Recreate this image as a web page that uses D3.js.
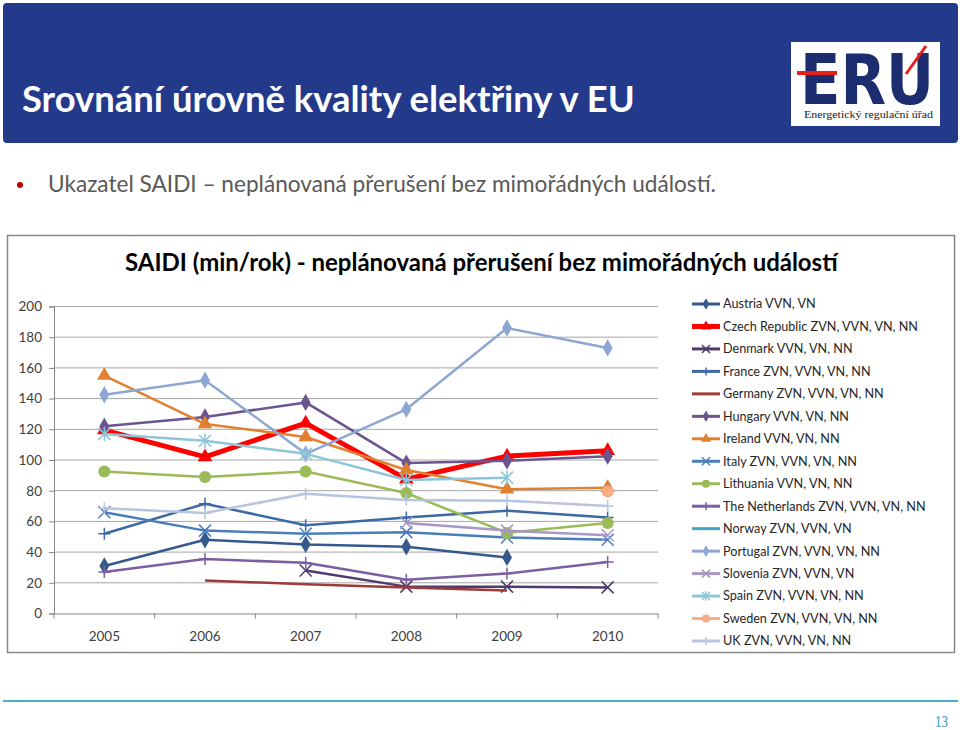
<!DOCTYPE html>
<html><head><meta charset="utf-8">
<script src="https://cdn.jsdelivr.net/npm/d3@7"></script>
<style>body{margin:0;background:#fff}svg{display:block}</style>
</head><body><svg id="c" width="960" height="730"></svg>
<script>
// ---- data ----
const years = ["2005","2006","2007","2008","2009","2010"];
const yTicks = [0,20,40,60,80,100,120,140,160,180,200];
const seriesNames = ["Austria VVN, VN","Czech Republic ZVN, VVN, VN, NN","Denmark VVN, VN, NN","France ZVN, VVN, VN, NN","Germany ZVN, VVN, VN, NN","Hungary VVN, VN, NN","Ireland VVN, VN, NN","Italy  ZVN, VVN, VN, NN","Lithuania VVN, VN, NN","The Netherlands ZVN, VVN, VN, NN","Norway ZVN, VVN, VN","Portugal ZVN, VVN, VN, NN","Slovenia  ZVN, VVN, VN","Spain ZVN, VVN, VN, NN","Sweden ZVN, VVN, VN, NN","UK ZVN, VVN, VN, NN"];
const austria     = [31, 48, 45, 43.5, 36.5, null];
const czech       = [119.5, 102, 124, 87.5, 102.5, 106];
const denmark     = [null, null, 28, 17.5, 17.5, 17];
const france      = [52, 71.5, 57.5, 62.5, 67, 62.5];
const germany     = [null, 21.5, 19, 17, 15, null];
const hungary     = [122, 128, 137.5, 98, 99.5, 102.5];
const ireland     = [155, 123.5, 115, 93.5, 81, 82];
const italy       = [66, 54, 52, 53, 49.5, 48];
const lithuania   = [92.5, 89, 92.5, 78.5, 52.5, 59];
const netherlands = [27, 35.5, 33, 22, 26, 33.5];
const norway      = [null, null, null, null, null, null];
const portugal    = [142.5, 152, 104, 133, 186, 173];
const slovenia    = [null, null, null, 59, 54, 51];
const spain       = [117, 112.5, 104, 87, 88.5, null];
const sweden      = [null, null, null, null, null, 79.5];
const uk          = [68.5, 65.5, 78, 74, 73.5, 70];
const seriesValues = [austria, czech, denmark, france, germany, hungary, ireland, italy, lithuania, netherlands, norway, portugal, slovenia, spain, sweden, uk];

// ---- styles ----
const styles = [
  {c:"#35598c", m:"diamond", w:2.5},
  {c:"#ff0000", m:"triangle", w:5},
  {c:"#4d3b6e", m:"x", w:2.5},
  {c:"#3c6aa3", m:"plus", w:2.5},
  {c:"#9e3a38", m:"none", w:2.5},
  {c:"#6a5591", m:"diamond", w:2.5},
  {c:"#e0812f", m:"triangle", w:2.5},
  {c:"#4a7ebb", m:"x", w:2.5},
  {c:"#9bbb59", m:"circle", w:2.5},
  {c:"#7b5fa3", m:"plus", w:2.5},
  {c:"#45a5c0", m:"none", w:2.5},
  {c:"#8ea6d2", m:"diamond", w:2.5},
  {c:"#a798c6", m:"x", w:2.5},
  {c:"#8cc6d8", m:"star", w:2.5},
  {c:"#f9ad85", m:"circle", w:2.5},
  {c:"#b7c4e0", m:"plus", w:2.5}
];
const FONT = "Lato, 'Open Sans', sans-serif";

const svg = d3.select("#c");

function fit(sel, w){
  const l = sel.node().getComputedTextLength();
  const fs = parseFloat(sel.attr("font-size"));
  sel.attr("font-size", fs*w/l);
  return fs*w/l;
}

// header
svg.append("rect").attr("x",3).attr("y",3).attr("width",955).attr("height",140).attr("rx",4).attr("fill","#233a8b");
const title = svg.append("text").attr("x",22).attr("y",112).attr("fill","#fff").attr("font-family",FONT)
  .attr("font-weight","bold").attr("font-size",34).text("Srovnání úrovně kvality elektřiny v EU");
fit(title, 613);

// logo
const logo = svg.append("g");
logo.append("rect").attr("x",791).attr("y",42).attr("width",149).attr("height",84).attr("fill","#fff");
logo.append("text").attr("x",800).attr("y",104).attr("fill","#1b2d6e").attr("font-family","'Liberation Sans Narrow','DejaVu Sans Condensed',sans-serif")
  .attr("font-weight","bold").attr("font-size",70).attr("textLength",134).attr("lengthAdjust","spacingAndGlyphs").text("ERU");
logo.append("rect").attr("x",797).attr("y",71).attr("width",40).attr("height",4).attr("fill","#e32119");
logo.append("line").attr("x1",906).attr("y1",74).attr("x2",926).attr("y2",46).attr("stroke","#e32119").attr("stroke-width",3);
logo.append("text").attr("x",804).attr("y",118).attr("fill","#222").attr("font-family","'Liberation Serif','DejaVu Serif',serif")
  .attr("font-size",11).attr("textLength",129).attr("lengthAdjust","spacingAndGlyphs").text("Energetický regulační úřad");

// bullet
svg.append("circle").attr("cx",20).attr("cy",185).attr("r",3).attr("fill","#c00000");
const bt = svg.append("text").attr("x",48).attr("y",192).attr("fill","#595959").attr("font-family",FONT)
  .attr("font-size",20).text("Ukazatel SAIDI – neplánovaná přerušení bez mimořádných událostí.");
fit(bt, 668);

// chart frame
svg.append("rect").attr("x",7.5).attr("y",235.5).attr("width",947).attr("height",417).attr("fill","#fff").attr("stroke","#868686").attr("stroke-width",1.5);
const ct = svg.append("text").attr("x",125).attr("y",271).attr("fill","#000").attr("font-family",FONT)
  .attr("font-weight","bold").attr("font-size",20).text("SAIDI (min/rok) - neplánovaná přerušení bez mimořádných událostí");
fit(ct, 713);

// scales
const x = d3.scaleBand().domain(years).range([54, 658]);
const y = d3.scaleLinear().domain([0,200]).range([613.5, 306.5]);

// grid
svg.append("g").selectAll("line").data(yTicks.filter(d=>d>0)).join("line")
  .attr("x1",54).attr("x2",658).attr("y1",d=>y(d)).attr("y2",d=>y(d)).attr("stroke","#a6a6a6").attr("stroke-width",1);

// axes
const gy = svg.append("g").attr("transform","translate(54,0)")
  .call(d3.axisLeft(y).tickValues(yTicks).tickSize(5).tickPadding(7));
const gx = svg.append("g").attr("transform","translate(0,613.5)")
  .call(d3.axisBottom(x).tickSize(0).tickPadding(18));
[gy,gx].forEach(g=>{
  g.selectAll("path").attr("stroke","#868686");
  g.selectAll("line").attr("stroke","#868686");
  g.selectAll("text").attr("font-family",FONT).attr("font-size",13.5).attr("fill","#404040");
});
// x category boundary ticks
svg.append("g").selectAll("line").data(years.concat(["end"])).join("line")
  .attr("x1",(d,i)=>i<years.length? x(d): x(years[years.length-1])+x.bandwidth())
  .attr("x2",(d,i)=>i<years.length? x(d): x(years[years.length-1])+x.bandwidth())
  .attr("y1",613.5).attr("y2",618.5).attr("stroke","#868686");

// markers
function marker(g, type, cx, cy, col, s){
  if(type==="none") return;
  if(type==="diamond"){
    g.append("path").attr("d",d3.symbol(d3.symbolDiamond, s*s*0.6)()).attr("transform",`translate(${cx},${cy})`).attr("fill",col);
  } else if(type==="triangle"){
    g.append("path").attr("d",d3.symbol(d3.symbolTriangle, s*s*0.55)()).attr("transform",`translate(${cx},${cy})`).attr("fill",col);
  } else if(type==="circle"){
    g.append("circle").attr("cx",cx).attr("cy",cy).attr("r",s/2).attr("fill",col);
  } else if(type==="x"){
    const h=s/2;
    g.append("path").attr("d",`M${cx-h},${cy-h}L${cx+h},${cy+h}M${cx-h},${cy+h}L${cx+h},${cy-h}`).attr("stroke",col).attr("stroke-width",1.5);
  } else if(type==="plus"){
    const h=s/2;
    g.append("path").attr("d",`M${cx-h},${cy}L${cx+h},${cy}M${cx},${cy-h}L${cx},${cy+h}`).attr("stroke",col).attr("stroke-width",1.5);
  } else if(type==="star"){
    const h=s/2;
    g.append("path").attr("d",`M${cx-h},${cy-h}L${cx+h},${cy+h}M${cx-h},${cy+h}L${cx+h},${cy-h}M${cx},${cy-h*1.2}L${cx},${cy+h*1.2}`).attr("stroke",col).attr("stroke-width",1.5);
  }
}

const plot = svg.append("g");
const line = d3.line().defined(d=>d.v!=null).x(d=>x(d.yr)+x.bandwidth()/2).y(d=>y(d.v));
seriesValues.forEach((vals,i)=>{
  const st = styles[i];
  const pts = years.map((yr,j)=>({yr, v: vals[j]}));
  const g = plot.append("g");
  g.append("path").datum(pts).attr("d",line).attr("fill","none").attr("stroke",st.c).attr("stroke-width",st.w).attr("stroke-linejoin","round");
  pts.filter(p=>p.v!=null).forEach(p=>{
    const sz = st.m==="circle"?12: st.m==="triangle"?13: 12;
    marker(g, st.m, x(p.yr)+x.bandwidth()/2, y(p.v), st.c, sz);
  });
});

// legend
const leg = svg.append("g");
const ly = d3.scaleLinear().domain([0,15]).range([304,641]);
seriesNames.forEach((nm,i)=>{
  const st = styles[i];
  const yy = ly(i);
  leg.append("line").attr("x1",692).attr("x2",720).attr("y1",yy).attr("y2",yy).attr("stroke",st.c).attr("stroke-width",st.w===5?5:3);
  marker(leg, st.m, 706, yy, st.c, st.m==="triangle"?9:8);
  leg.append("text").attr("class","lt").attr("x",723).attr("y",yy).attr("dy","0.35em").attr("font-family",FONT).attr("font-size",13).attr("fill","#262626").text(nm);
});
const longest = leg.selectAll(".lt").filter((d,i)=>i===9);
const fs = fit(longest, 203);
leg.selectAll(".lt").attr("font-size",fs);

// footer
svg.append("line").attr("x1",3).attr("x2",958).attr("y1",701).attr("y2",701).attr("stroke","#4bacc6").attr("stroke-width",2);
svg.append("text").attr("x",948).attr("y",727).attr("text-anchor","end").attr("fill","#31a0c0").attr("font-family","'Liberation Serif',serif").attr("font-size",17).attr("textLength",13).attr("lengthAdjust","spacingAndGlyphs").text("13");
</script></body></html>
